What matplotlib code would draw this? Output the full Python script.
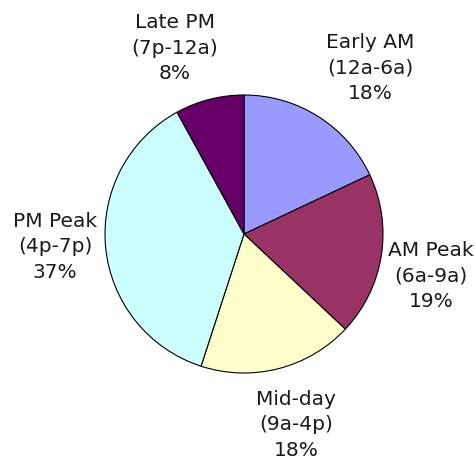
import matplotlib.pyplot as plt

# share of trips by time period
periods = ['Early AM', 'AM Peak', 'Mid-day', 'PM Peak', 'Late PM']
hours = ['(12a-6a)', '(6a-9a)', '(9a-4p)', '(4p-7p)', '(7p-12a)']
shares = [18, 19, 18, 37, 8]
colors = ['#9999FF', '#993366', '#FFFFCC', '#CCFFFF', '#660066']

# label anchor points, pixel space (y up)
label_xy = [(370, 398), (431, 190), (296, 41), (55, 219), (175, 418)]

fig = plt.figure(figsize=(4.75, 4.66), dpi=100)
ax = fig.add_axes([0, 0, 1, 1])

ax.pie(shares, colors=colors, startangle=90, counterclock=False,
       center=(244, 232), radius=139,
       wedgeprops={'edgecolor': 'black', 'linewidth': 0.8})

# pie() resets the limits, so set them afterwards
ax.set_xlim(0, 475)
ax.set_ylim(0, 466)
ax.set_aspect('equal')
ax.axis('off')

for name, hrs, val, (x, y) in zip(periods, hours, shares, label_xy):
    ax.text(x, y, f'{name}\n{hrs}\n{val}%', ha='center', va='center',
            fontsize=14.5, linespacing=1.45, color='#1a1a1a', family='DejaVu Sans')

fig.savefig('out.png', dpi=100)
